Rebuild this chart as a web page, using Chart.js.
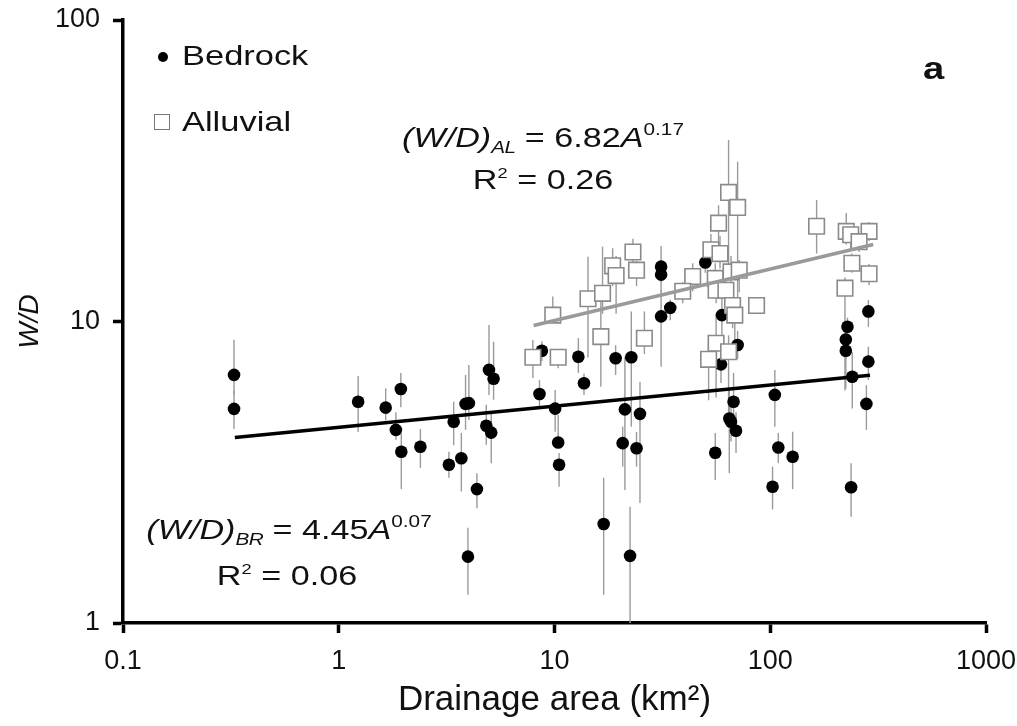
<!DOCTYPE html>
<html>
<head>
<meta charset="utf-8">
<title>W/D vs drainage area</title>
<script src="https://cdn.jsdelivr.net/npm/chart.js@4.4.1/dist/chart.umd.min.js"></script>
<style>
  body { margin: 0; background: #fff; }
  #wrap { position: relative; width: 1017px; height: 726px; }
  #chart { position: absolute; left: 0; top: 0; }
  .note {
    position: absolute;
    font-family: 'Liberation Sans', Arial, sans-serif;
    font-size: 28px;
    line-height: 28px;
    color: #111;
    white-space: nowrap;
  }
  .center { transform: translateX(-50%) scaleX(1.22); transform-origin: center; }
  .left { transform: scaleX(1.23); transform-origin: left; }
  .note sub, .note sup { font-size: 17px; line-height: 0; position: relative; vertical-align: baseline; }
  .note sub { top: 6px; font-style: italic; letter-spacing: -0.5px; }
  .note sup { top: -12px; }
  .note sup.sq { font-size: 15px; top: -11px; }
  .dot { position: absolute; width: 10px; height: 10px; border-radius: 50%; background: #000; }
  .box { position: absolute; width: 14px; height: 14px; border: 1px solid #777; background: #fff; }
</style>
</head>
<body>
<div id="wrap">
  <canvas id="chart" width="1017" height="726"></canvas>

  <div class="dot" style="left:158px; top:52px;"></div>
  <div class="note left" style="left:182px; top:42px;">Bedrock</div>
  <div class="box" style="left:154px; top:114px;"></div>
  <div class="note left" style="left:182px; top:108px;">Alluvial</div>
  <div class="note left" style="left:923px; top:55px; font-weight:bold; font-size:31px;">a</div>

  <div class="note center" style="left:543px; top:124px;"><i>(W/D)</i><sub>AL</sub> = 6.82<i>A</i><sup>0.17</sup></div>
  <div class="note center" style="left:543px; top:166px;">R<sup class="sq">2</sup> = 0.26</div>

  <div class="note center" style="left:289px; top:516px;"><i>(W/D)</i><sub>BR</sub> = 4.45<i>A</i><sup>0.07</sup></div>
  <div class="note center" style="left:287px; top:562px;">R<sup class="sq">2</sup> = 0.06</div>
</div>

<script>
// axis ticks
const xTickValues = [0.1, 1, 10, 100, 1000];
const yTickValues = [1, 10, 100];

// bedrock channels: drainage area (km2), W/D, error bar low / high
const bedrockArea = [0.327, 0.327, 1.23, 1.65, 1.84, 1.94, 1.95, 2.39, 3.24, 3.41,
  3.70, 3.87, 4.01, 4.37, 3.97, 4.83, 5.09, 4.97, 5.22, 8.52,
  8.74, 10.07, 10.4, 10.5, 12.9, 13.7, 16.9, 19.2, 21.2, 20.7,
  22.7, 22.4, 24.9, 24.0, 31.2, 34.4, 31.2, 31.2, 50, 59.7,
  70.6, 59.1, 67.6, 64.6, 65.8, 69.4, 55.6, 105, 109, 127,
  102.5, 228, 224, 224, 240, 285, 285, 279, 237];
const bedrockWD = [6.65, 5.13, 5.42, 5.18, 4.37, 5.97, 3.70, 3.84, 3.35, 4.65,
  3.52, 5.33, 5.36, 2.78, 1.66, 4.51, 4.28, 6.91, 6.46, 5.75,
  8.0, 5.14, 3.97, 3.35, 7.64, 6.24, 2.13, 7.55, 5.11, 3.95,
  7.61, 1.67, 4.94, 3.80, 10.4, 11.1, 15.2, 14.3, 15.7, 10.5,
  8.36, 7.21, 5.42, 4.77, 4.65, 4.34, 3.67, 5.71, 3.82, 3.56,
  2.83, 9.61, 8.72, 8.0, 6.56, 10.8, 7.36, 5.33, 2.82];
const bedrockLow = [5.7, 4.4, 4.3, 4.7, 4.05, 5.2, 2.78, 3.27, 3.03, 3.89,
  2.73, 4.37, 4.71, 2.40, 1.24, 3.9, 3.39, 5.7, 5.5, 5.22,
  7.4, 4.31, 3.84, 2.83, 6.75, 5.70, 1.24, 6.65, 2.76, 3.30,
  4.48, 1.0, 2.50, 3.3, 7.08, 10.1, 13.5, 12.5, 14.5, 9.0,
  7.5, 6.25, 4.5, 3.14, 4.0, 3.66, 2.98, 4.48, 3.39, 2.78,
  2.38, 8.0, 7.5, 6.0, 5.15, 9.6, 6.40, 4.37, 2.25];
const bedrockHigh = [8.7, 5.9, 6.6, 6.0, 5.0, 6.75, 4.27, 4.40, 3.70, 5.42,
  4.27, 6.65, 7.18, 3.14, 2.07, 5.3, 5.0, 9.73, 8.57, 6.40,
  8.6, 5.93, 4.90, 3.66, 8.81, 6.72, 3.03, 8.34, 7.64, 4.48,
  10.8, 2.43, 6.31, 4.3, 12.7, 11.8, 17.8, 15.5, 17, 12.1,
  9.3, 7.9, 6.75, 6.0, 5.4, 5.0, 4.27, 6.91, 4.27, 4.31,
  3.30, 10.3, 9.5, 8.8, 7.9, 11.8, 8.25, 6.15, 3.39];

// alluvial channels
const alluvialArea = [7.94, 10.4, 9.82, 14.3, 16.7, 16.4, 18.6, 19.3, 23.1, 24.0,
  26.1, 43.7, 39.3, 64.1, 70.6, 57.6, 53.1, 58.5, 55.6, 65.8,
  71.8, 56.1, 62.3, 66.9, 68.5, 86.4, 56.1, 64.1, 51.8, 164,
  225, 236, 287, 258, 239, 287, 222];
const alluvialWD = [7.61, 7.61, 10.5, 11.9, 12.4, 8.91, 15.3, 14.2, 17.0, 14.8,
  8.80, 14.1, 12.6, 26.8, 23.9, 21.2, 17.3, 16.8, 13.9, 14.6,
  14.8, 12.7, 12.7, 11.3, 10.5, 11.3, 8.47, 7.94, 7.49, 20.7,
  19.9, 19.4, 19.9, 18.4, 15.6, 14.4, 12.9];
const alluvialLow = [6.49, 7.0, 9.9, 7.6, 10.6, 6.08, 13.1, 10.6, 15.6, 13.1,
  7.8, 12.6, 11.5, 15, 10.4, 18, 15.5, 15, 12.4, 12.5,
  12.5, 11.5, 11.2, 9.5, 8, 11.3, 5.6, 4.6, 5.48, 16.8,
  18, 17.5, 18.5, 17, 14.5, 13.2, 5.9];
const alluvialHigh = [8.68, 8.04, 12.1, 16.4, 17.7, 11.6, 17.5, 16.5, 18.8, 15.9,
  10.8, 15.6, 13.5, 40, 33.9, 24.3, 19.5, 19.2, 15.6, 16.5,
  16, 14, 14.5, 12.5, 11.5, 11.3, 10.5, 9, 8.5, 25.3,
  22.9, 21, 21.4, 19.5, 16.8, 15.5, 14];

// power-law fit lines, end points
const fitBedrockArea = [0.33, 290];
const fitBedrockWD = [4.12, 6.63];
const fitAlluvialArea = [8, 300];
const fitAlluvialWD = [9.7, 18.0];

const FONT = "'Liberation Sans', Arial, sans-serif";

function toPoints(xs, ys) {
    return xs.map((v, i) => ({ x: v, y: ys[i] }));
}

// vertical error bars, drawn under the markers
const errorBarPlugin = {
    id: 'errorBars',
    beforeDatasetsDraw(chart) {
        const { ctx, chartArea, scales } = chart;
        ctx.save();
        ctx.beginPath();
        ctx.rect(chartArea.left, chartArea.top, chartArea.right - chartArea.left, chartArea.bottom - chartArea.top);
        ctx.clip();
        ctx.strokeStyle = '#9a9a9a';
        ctx.lineWidth = 1.4;
        chart.data.datasets.forEach(ds => {
            if (!ds.errLow) return;
            ds.data.forEach((p, i) => {
                const px = scales.x.getPixelForValue(p.x);
                ctx.beginPath();
                ctx.moveTo(px, scales.y.getPixelForValue(ds.errLow[i]));
                ctx.lineTo(px, scales.y.getPixelForValue(ds.errHigh[i]));
                ctx.stroke();
            });
        });
        ctx.restore();
    }
};

const axisStyle = {
    grid: { display: true, drawOnChartArea: false, drawTicks: true, tickLength: 10, tickWidth: 3.5, tickColor: '#000' },
    border: { display: true, color: '#000', width: 3.5 }
};

new Chart(document.getElementById('chart'), {
    type: 'scatter',
    data: {
        datasets: [
            {
                label: 'Bedrock fit',
                data: toPoints(fitBedrockArea, fitBedrockWD),
                showLine: true,
                borderColor: '#000',
                borderWidth: 3.5,
                pointRadius: 0
            },
            {
                label: 'Alluvial fit',
                data: toPoints(fitAlluvialArea, fitAlluvialWD),
                showLine: true,
                borderColor: '#9a9a9a',
                borderWidth: 3.5,
                pointRadius: 0
            },
            {
                label: 'Alluvial',
                data: toPoints(alluvialArea, alluvialWD),
                errLow: alluvialLow,
                errHigh: alluvialHigh,
                pointStyle: 'rect',
                pointRadius: 11,
                backgroundColor: '#fff',
                borderColor: '#8a8a8a',
                borderWidth: 1.6
            },
            {
                label: 'Bedrock',
                data: toPoints(bedrockArea, bedrockWD),
                errLow: bedrockLow,
                errHigh: bedrockHigh,
                pointStyle: 'circle',
                pointRadius: 6.3,
                backgroundColor: '#000',
                borderColor: '#000',
                borderWidth: 0
            }
        ]
    },
    options: {
        responsive: false,
        animation: false,
        events: [],
        layout: { padding: { top: 20, right: 31, left: 0, bottom: 0 } },
        plugins: {
            legend: { display: false },
            tooltip: { enabled: false }
        },
        scales: {
            x: {
                type: 'logarithmic',
                min: 0.1,
                max: 1000,
                ...axisStyle,
                afterBuildTicks: (axis) => { axis.ticks = xTickValues.map(v => ({ value: v })); },
                afterFit: (scale) => {
                    scale.height = 103;
                    scale.paddingLeft = 0;
                    scale.paddingRight = 0;
                },
                ticks: {
                    autoSkip: false,
                    maxRotation: 0,
                    padding: 12,
                    color: '#111',
                    font: { family: FONT, size: 27 },
                    callback: (value) => String(value)
                },
                title: {
                    display: true,
                    text: 'Drainage area (km²)',
                    color: '#111',
                    font: { family: FONT, size: 35 },
                    padding: { top: 0, bottom: 5 }
                }
            },
            y: {
                type: 'logarithmic',
                min: 1,
                max: 100,
                ...axisStyle,
                afterBuildTicks: (axis) => { axis.ticks = yTickValues.map(v => ({ value: v })); },
                afterFit: (scale) => {
                    scale.width = 123;
                    scale.paddingTop = 0;
                    scale.paddingBottom = 0;
                },
                ticks: {
                    autoSkip: false,
                    padding: 13,
                    color: '#111',
                    font: { family: FONT, size: 27 },
                    callback: (value) => String(value)
                },
                title: {
                    display: true,
                    text: 'W/D',
                    color: '#111',
                    font: { family: FONT, size: 28, style: 'italic' },
                    padding: { top: 13, bottom: 0 }
                }
            }
        }
    },
    plugins: [errorBarPlugin]
});
</script>
</body>
</html>
